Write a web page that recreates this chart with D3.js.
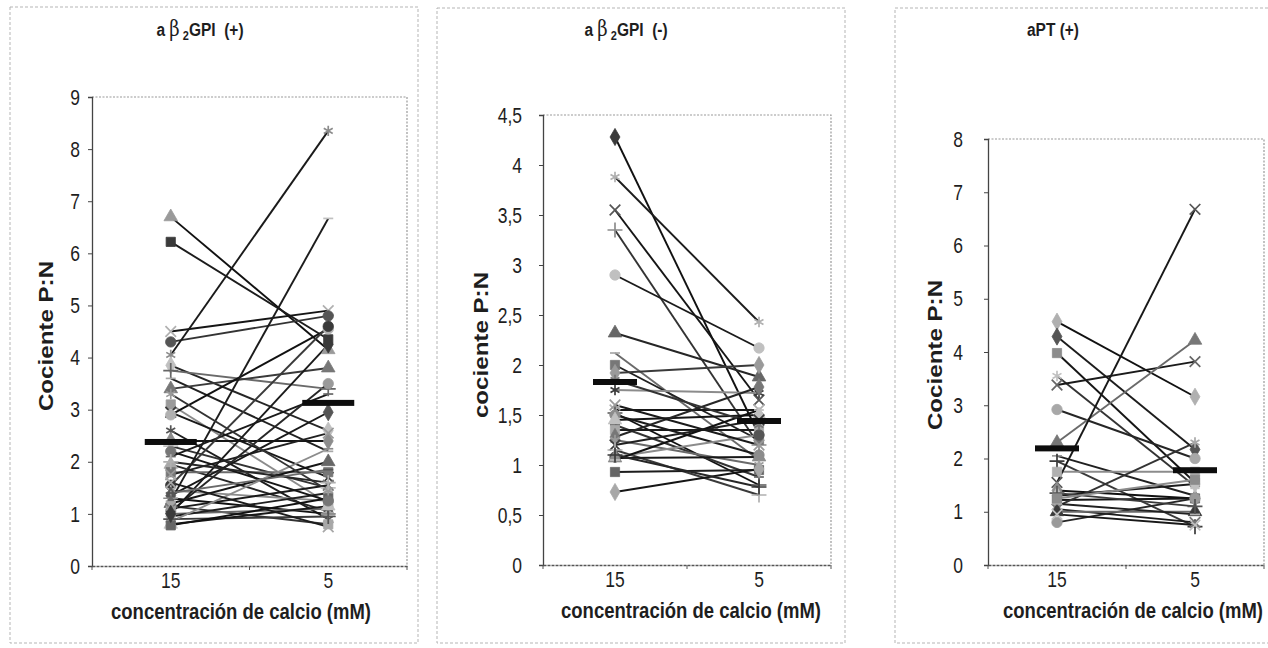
<!DOCTYPE html>
<html><head><meta charset="utf-8">
<script src="https://cdn.jsdelivr.net/npm/d3@7"></script>
<style>body{margin:0;background:#fff}svg{display:block}text{font-family:"Liberation Sans",Arial,sans-serif;fill:#1e1e1e}</style>
</head><body><svg id="c" width="1268" height="648"></svg>
<script>
// ---------- data ----------
const categories = ["15", "5"];
const xAxisTitle = "concentración de calcio (mM)";

// Panel 1: aβ2GPI (+)
const p1Ratio15 = [6.70, 6.22, 4.50, 4.30, 4.05, 3.85, 3.75, 3.60, 3.40, 3.10, 2.95, 2.90, 2.60, 2.40, 2.30, 2.10, 1.95, 1.80, 1.75, 1.55,
                   1.45, 1.35, 1.30, 1.25, 1.20, 1.15, 1.10, 1.05, 1.00, 0.95, 0.90, 0.85, 0.80, 0.78, 1.60, 2.20, 3.30, 1.00, 2.00, 1.40];
const p1Ratio5  = [4.15, 4.35, 4.90, 4.80, 8.35, 2.60, 3.40, 2.20, 3.80, 1.20, 1.70, 4.55, 0.90, 2.40, 1.50, 3.30, 1.05, 1.80, 2.55, 4.60,
                   1.25, 2.95, 1.00, 6.67, 2.00, 0.80, 1.55, 3.50, 1.10, 1.40, 0.95, 2.25, 1.15, 1.30, 0.75, 1.25, 1.45, 4.25, 1.60, 1.85];
const p1Means = [2.38, 3.13];
const p1Ticks = [0, 1, 2, 3, 4, 5, 6, 7, 8, 9];

// Panel 2: aβ2GPI (-)
const p2Ratio15 = [4.28, 3.88, 3.55, 3.35, 2.90, 2.32, 2.12, 2.00, 1.92, 1.75, 1.55, 1.52, 1.50, 1.45, 1.40, 1.35, 1.28, 1.25, 1.20, 1.15,
                   1.08, 1.07, 1.05, 0.93, 0.73, 1.85, 1.60, 1.10];
const p2Ratio5  = [1.30, 2.43, 1.65, 1.20, 2.17, 1.88, 1.05, 1.25, 2.00, 1.72, 1.55, 0.80, 1.10, 1.50, 0.88, 1.35, 1.78, 1.00, 1.45, 0.70,
                   1.30, 1.08, 1.55, 0.95, 0.96, 1.40, 1.20, 0.78];
const p2Means = [1.83, 1.44];
const p2Ticks = [0, 0.5, 1, 1.5, 2, 2.5, 3, 3.5, 4, 4.5];

// Panel 3: aPT (+)
const p3Ratio15 = [4.57, 4.29, 3.98, 3.55, 3.38, 2.92, 2.30, 2.05, 1.95, 1.75, 1.55, 1.40, 1.30, 1.22, 1.10, 1.05, 0.80, 1.00, 1.15, 1.35, 1.25, 0.95];
const p3Ratio5  = [3.16, 2.17, 1.55, 1.48, 3.82, 2.00, 4.22, 1.30, 0.72, 1.75, 6.68, 1.25, 1.52, 1.25, 2.30, 0.80, 1.25, 1.00, 0.95, 1.10, 1.60, 0.75];
const p3Means = [2.19, 1.78];
const p3Ticks = [0, 1, 2, 3, 4, 5, 6, 7, 8];

// ---------- layout / style ----------
const panels = [
  { title: ["a", "β", "2", "GPI\u00a0\u00a0(+)"], yLabel: "Cociente P:N", r15: p1Ratio15, r5: p1Ratio5, means: p1Means, ticks: p1Ticks,
    outer: [10, 7, 418, 643], plot: [92, 97, 407, 566], titleX: 200, yTitleX: 45, yTitleY: 336, tickGap: 12, meanW: 52, xTitleX: 241,
    shapes: ["triangle", "square", "x", "circle", "asterisk", "diamond", "plus", "dash"] },
  { title: ["a", "β", "2", "GPI\u00a0\u00a0(-)"], yLabel: "cociente P:N", r15: p2Ratio15, r5: p2Ratio5, means: p2Means, ticks: p2Ticks,
    outer: [437, 8, 845, 643], plot: [543, 115, 831, 565], titleX: 626, yTitleX: 480, yTitleY: 345, tickGap: 21, meanW: 44, xTitleX: 691,
    shapes: ["diamond", "asterisk", "x", "plus", "circle", "triangle", "dash", "square"] },
  { title: ["aPT (+)"], yLabel: "Cociente P:N", r15: p3Ratio15, r5: p3Ratio5, means: p3Means, ticks: p3Ticks,
    outer: [895, 8, 1275, 643], plot: [988, 139, 1264, 565], titleX: 1053, yTitleX: 934, yTitleY: 355, tickGap: 25, meanW: 44, xTitleX: 1133,
    shapes: ["diamond", "diamond", "square", "asterisk", "x", "circle", "triangle", "dash", "plus", "square", "x"] }
];
const lineShades = ["#111", "#1c1c1c", "#151515", "#333", "#1a1a1a", "#262626", "#6a6a6a", "#202020", "#3a3a3a", "#8c8c8c", "#181818"];
const markerShades = ["#9a9a9a", "#3a3a3a", "#b0b0b0", "#555", "#8c8c8c", "#c0c0c0", "#666", "#a8a8a8", "#777"];
const VS = 1.22; // vertical stretch of the scanned lettering

const fmt = d3.formatLocale({ decimal: ",", thousands: ".", grouping: [3], currency: ["", "€"] }).format("~g");
const svg = d3.select("#c");

const symbolMap = {
  diamond: d3.symbolDiamond, square: d3.symbolSquare, triangle: d3.symbolTriangle, circle: d3.symbolCircle,
  x: d3.symbolX || d3.symbolCross, asterisk: d3.symbolAsterisk || d3.symbolStar, plus: d3.symbolPlus || d3.symbolCross
};
const strokeKinds = new Set(["x", "asterisk", "plus", "dash"]);
function markerPath(kind) {
  if (kind === "dash") return "M-5,0H5";
  const size = kind === "square" ? 85 : kind === "diamond" ? 85 : kind === "triangle" ? 80 : kind === "circle" ? 85 : 75;
  return d3.symbol(symbolMap[kind], size)();
}

panels.forEach((p, pi) => {
  const g = svg.append("g");
  const [ox0, oy0, ox1, oy1] = p.outer;
  g.append("rect").attr("x", ox0).attr("y", oy0).attr("width", ox1 - ox0).attr("height", oy1 - oy0)
    .attr("fill", "none").attr("stroke", "#b5b5b5").attr("stroke-dasharray", "3,2").attr("stroke-width", 1);

  const [x0, y0, x1, y1] = p.plot;
  const x = d3.scaleBand().domain(categories).range([x0, x1]);
  const y = d3.scaleLinear().domain([0, d3.max(p.ticks)]).range([y1, y0]);
  const cx = c => x(c) + x.bandwidth() / 2;

  // plot area border (top/right dotted)
  g.append("path").attr("d", `M${x0},${y0}H${x1}V${y1}`).attr("fill", "none")
    .attr("stroke", "#999").attr("stroke-dasharray", "2,1.5").attr("stroke-width", 1.2);

  // y axis
  const yAx = g.append("g").attr("transform", `translate(${x0},0)`)
    .call(d3.axisLeft(y).tickValues(p.ticks).tickSize(4).tickFormat(""));
  yAx.select(".domain").attr("stroke", "#444").attr("stroke-width", 1.3);
  yAx.selectAll(".tick line").attr("stroke", "#444");
  p.ticks.forEach(t => {
    g.append("g").attr("transform", `translate(${x0 - p.tickGap},${y(t)}) scale(1,${VS})`)
      .append("text").attr("text-anchor", "end").attr("dy", "0.36em").attr("font-size", 17.5).text(fmt(t));
  });

  // x axis
  const xAx = g.append("g").attr("transform", `translate(0,${y1})`)
    .call(d3.axisBottom(x).tickSize(0).tickFormat(""));
  xAx.select(".domain").attr("stroke", "#555").attr("stroke-width", 1.3).attr("stroke-dasharray", "3,1");
  [x0, (x0 + x1) / 2, x1].forEach(tx => g.append("line").attr("x1", tx).attr("x2", tx).attr("y1", y1).attr("y2", y1 + 4).attr("stroke", "#555"));
  categories.forEach(c => {
    g.append("g").attr("transform", `translate(${cx(c)},${y1 + 22}) scale(1,${VS})`)
      .append("text").attr("text-anchor", "middle").attr("font-size", 17.5).text(c);
  });
  g.append("g").attr("transform", `translate(${p.xTitleX},${y1 + 53}) scale(1,${VS})`)
    .append("text").attr("text-anchor", "middle").attr("font-size", 18.5).attr("font-weight", "bold").text(xAxisTitle);

  // y title
  g.append("g").attr("transform", `translate(${p.yTitleX},${p.yTitleY}) rotate(-90) scale(1.15,1)`)
    .append("text").attr("text-anchor", "middle").attr("dy", "0.36em").attr("font-size", 21).attr("font-weight", "bold").text(p.yLabel);

  // title
  const tt = g.append("g").attr("transform", `translate(${p.titleX},36) scale(1,${VS})`)
    .append("text").attr("text-anchor", "middle").attr("font-size", 15.5).attr("font-weight", "bold");
  if (p.title.length > 1) {
    tt.append("tspan").text(p.title[0] + "\u00a0");
    tt.append("tspan").attr("font-weight", "normal").attr("font-family", "DejaVu Serif, serif").attr("font-size", 18).text(p.title[1]);
    tt.append("tspan").attr("font-size", 11).attr("dy", 3).text("\u00a0" + p.title[2]);
    tt.append("tspan").attr("dy", -3).text(p.title[3]);
  } else {
    tt.text(p.title[0]);
  }

  // series: lines then markers
  const series = p.r15.map((v, i) => ({ a: v, b: p.r5[i], i }));
  const sg = g.append("g");
  sg.selectAll("line.s").data(series).join("line")
    .attr("x1", cx(categories[0])).attr("x2", cx(categories[1]))
    .attr("y1", d => y(d.a)).attr("y2", d => y(d.b))
    .attr("stroke", d => lineShades[d.i % lineShades.length]).attr("stroke-width", 1.9);
  series.forEach(d => {
    const kind = p.shapes[d.i % p.shapes.length];
    const col = markerShades[(d.i + pi) % markerShades.length];
    [[categories[0], d.a], [categories[1], d.b]].forEach(([c, v]) => {
      const m = sg.append("path").attr("d", markerPath(kind))
        .attr("transform", `translate(${cx(c)},${y(v)})`);
      if (strokeKinds.has(kind)) m.attr("fill", "none").attr("stroke", col).attr("stroke-width", 1.7);
      else m.attr("fill", col).attr("stroke", col).attr("stroke-width", 0.8);
    });
  });

  // mean bars
  g.selectAll("rect.mean").data(p.means).join("rect")
    .attr("x", (d, i) => cx(categories[i]) - p.meanW / 2).attr("width", p.meanW)
    .attr("y", d => y(d) - 3).attr("height", 6).attr("fill", "#0d0d0d");
});
</script></body></html>
